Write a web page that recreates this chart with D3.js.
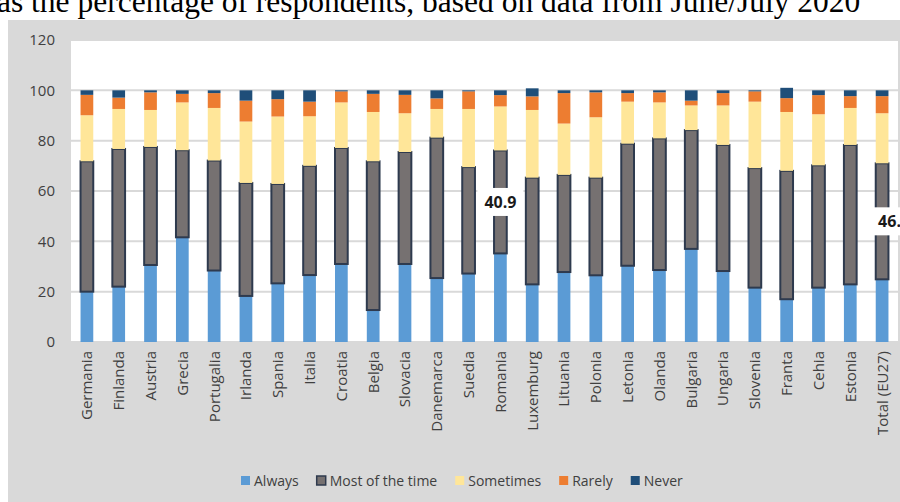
<!DOCTYPE html>
<html>
<head>
<meta charset="utf-8">
<script src="https://cdn.jsdelivr.net/npm/d3@7"></script>
<style>
  body { margin: 0; background: #ffffff; }
  svg { display: block; }
</style>
</head>
<body>
<svg id="chart" width="900" height="502"></svg>
<script>
// Countries (and the EU27 total) in display order
const categories = ["Germania", "Finlanda", "Austria", "Grecia", "Portugalia", "Irlanda", "Spania",
  "Italia", "Croatia", "Belgia", "Slovacia", "Danemarca", "Suedia", "Romania", "Luxemburg",
  "Lituania", "Polonia", "Letonia", "Olanda", "Bulgaria", "Ungaria", "Slovenia", "Franta",
  "Cehia", "Estonia", "Total (EU27)"];

// Share of respondents per answer, %
const always    = [20.0, 22.0, 30.6, 41.6, 28.4, 18.3, 23.3, 26.6, 31.0, 12.7, 31.0, 25.4, 27.2,
  35.2, 22.9, 27.8, 26.5, 30.3, 28.6, 37.0, 28.2, 21.6, 17.0, 21.6, 22.9, 24.9];
const mostTime  = [51.8, 54.7, 46.9, 34.6, 43.7, 44.9, 39.5, 43.4, 46.1, 59.1, 44.5, 55.8, 42.3,
  40.9, 42.4, 38.6, 38.8, 48.5, 52.3, 47.2, 50.1, 47.5, 51.0, 48.6, 55.4, 46.1];
const sometimes = [18.3, 15.9, 14.7, 19.0, 20.9, 24.4, 26.8, 19.7, 18.1, 19.6, 15.4, 11.4, 23.1,
  17.5, 26.9, 20.4, 24.0, 16.7, 14.3, 9.8, 15.7, 26.4, 23.4, 20.3, 14.7, 19.9];
const rarely    = [8.1, 4.5, 7.0, 3.4, 5.9, 8.3, 6.9, 5.8, 4.4, 7.2, 7.3, 4.2, 7.0,
  4.5, 5.4, 12.1, 9.9, 3.4, 4.0, 1.9, 4.9, 4.1, 5.5, 7.6, 4.7, 6.8];
const never     = [1.8, 2.9, 0.8, 1.4, 1.1, 4.1, 3.5, 4.5, 0.4, 1.4, 1.8, 3.2, 0.4,
  1.9, 3.2, 1.1, 0.8, 1.1, 0.8, 4.1, 1.1, 0.4, 4.1, 1.9, 2.3, 2.3];

const seriesNames = ["Always", "Most of the time", "Sometimes", "Rarely", "Never"];
const yTicks = [0, 20, 40, 60, 80, 100, 120];

// Segments that carry a value label
const labelled = [
  { category: "Romania", series: "Most of the time", dx: 0 },
  { category: "Total (EU27)", series: "Most of the time", dx: 12 }
];

const colors = {
  "Always": "#5b9bd5",
  "Most of the time": "#767171",
  "Sometimes": "#ffe699",
  "Rarely": "#ed7d31",
  "Never": "#1f4e79"
};
const outlineDark = "#2e3a4e";

const rows = categories.map((c, i) => ({
  category: c,
  "Always": always[i],
  "Most of the time": mostTime[i],
  "Sometimes": sometimes[i],
  "Rarely": rarely[i],
  "Never": never[i]
}));

const svg = d3.select("#chart");
const font = "'Open Sans', 'DejaVu Sans', sans-serif";

// Heading line above the chart panel (partly cut by the top edge)
svg.append("text")
  .attr("x", -3).attr("y", 12)
  .attr("font-family", "'Liberation Serif', 'Times New Roman', serif")
  .attr("font-size", 31.5)
  .attr("fill", "#000")
  .text("as the percentage of respondents, based on data from June/July 2020");

// Grey chart panel
svg.append("rect")
  .attr("x", 8).attr("y", 20).attr("width", 892).attr("height", 482)
  .attr("fill", "#d9d9d9");

const plot = { left: 71, right: 898, top: 40, bottom: 342 };

svg.append("rect")
  .attr("x", plot.left).attr("y", plot.top)
  .attr("width", plot.right - plot.left).attr("height", plot.bottom - plot.top)
  .attr("fill", "#ffffff");

const x = d3.scaleBand()
  .domain(categories)
  .range([plot.left, plot.right])
  .paddingInner(0.6)
  .paddingOuter(0.3);

const y = d3.scaleLinear().domain([0, 120]).range([plot.bottom, plot.top]);

// Gridlines
svg.append("g")
  .selectAll("line")
  .data(yTicks)
  .join("line")
  .attr("x1", plot.left).attr("x2", plot.right)
  .attr("y1", d => y(d)).attr("y2", d => y(d))
  .attr("stroke", "#d9d9d9")
  .attr("stroke-width", 2);

// Y axis labels
const yAxis = d3.axisLeft(y).tickValues(yTicks).tickSize(0).tickPadding(0);
const yg = svg.append("g")
  .attr("transform", `translate(55,0)`)
  .call(yAxis);
yg.select(".domain").remove();
yg.selectAll("text")
  .attr("font-family", font)
  .attr("font-size", 15)
  .attr("fill", "#404040");

// X axis labels (rotated)
const xAxis = d3.axisBottom(x).tickSize(0).tickPadding(0);
const xg = svg.append("g")
  .attr("transform", `translate(0,${plot.bottom})`)
  .call(xAxis);
xg.select(".domain").remove();
xg.selectAll("text")
  .attr("font-family", font)
  .attr("font-size", 15)
  .attr("fill", "#404040")
  .attr("text-anchor", "end")
  .attr("transform", "rotate(-90)")
  .attr("x", -9)
  .attr("y", 0)
  .attr("dy", "0.36em");

// Stacked bars
const stacked = d3.stack().keys(seriesNames)(rows);

const layers = svg.append("g")
  .selectAll("g")
  .data(stacked)
  .join("g")
  .attr("fill", d => colors[d.key]);

layers.selectAll("rect")
  .data(d => d.map(p => ({ key: d.key, p })))
  .join("rect")
  .attr("x", d => x(d.p.data.category))
  .attr("width", x.bandwidth())
  .attr("y", d => y(d.p[1]))
  .attr("height", d => y(d.p[0]) - y(d.p[1]))
  .attr("stroke", d => d.key === "Most of the time" ? outlineDark : "none")
  .attr("stroke-width", d => d.key === "Most of the time" ? 2 : 0);

// Value labels on selected segments
const labelG = svg.append("g");
labelled.forEach(l => {
  const layer = stacked.find(s => s.key === l.series);
  const idx = categories.indexOf(l.category);
  const seg = layer[idx];
  const cx = x(l.category) + x.bandwidth() / 2 + l.dx;
  const cy = y((seg[0] + seg[1]) / 2);
  const value = rows[idx][l.series];
  const g = labelG.append("g").attr("transform", `translate(${cx},${cy})`);
  g.append("rect")
    .attr("x", -23).attr("y", -14).attr("width", 46).attr("height", 28)
    .attr("fill", "#ffffff");
  g.append("text")
    .attr("text-anchor", "middle")
    .attr("dy", "0.36em")
    .attr("font-family", font)
    .attr("font-size", 16)
    .attr("font-weight", "bold")
    .attr("fill", "#1a1a1a")
    .text(d3.format(".1f")(value));
});

// Legend
const legend = svg.append("g").attr("transform", "translate(0,481)");
let lx = 241;
seriesNames.forEach(name => {
  const item = legend.append("g").attr("transform", `translate(${lx},0)`);
  item.append("rect")
    .attr("x", 0).attr("y", -5).attr("width", 9).attr("height", 9)
    .attr("fill", colors[name])
    .attr("stroke", name === "Most of the time" ? outlineDark : "none")
    .attr("stroke-width", name === "Most of the time" ? 1.5 : 0);
  const t = item.append("text")
    .attr("x", 13).attr("y", 0).attr("dy", "0.35em")
    .attr("font-family", font)
    .attr("font-size", 14)
    .attr("fill", "#404040")
    .text(name);
  lx += 13 + t.node().getComputedTextLength() + 18;
});
</script>
</body>
</html>
